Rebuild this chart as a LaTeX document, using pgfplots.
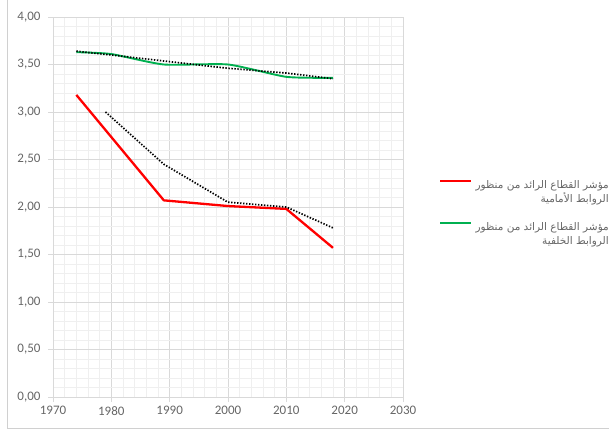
\documentclass[border=0pt]{standalone}
\usepackage{fontspec}
\usepackage{pgfplots}
\usepackage{pgfplotstable}
\pgfplotsset{compat=1.18}
\setmainfont{Carlito}
\newfontfamily\arabicfont[Script=Arabic]{DejaVu Sans}
\TeXXeTstate=1

\definecolor{tickgray}{HTML}{666666}
\definecolor{majgrid}{HTML}{D9D9D9}
\definecolor{mingrid}{HTML}{EFEFEF}
\definecolor{framegray}{HTML}{D0D0D0}
\definecolor{xlred}{HTML}{FF0000}
\definecolor{xlgreen}{HTML}{00B050}

% forward linkages index
\pgfplotstableread{
year val
1974 3.18
1989 2.07
2000 2.01
2010 1.98
2018 1.57
}\forwardtab
% trend of the forward index
\pgfplotstableread{
year val
1979 3.00
1989 2.45
2000 2.05
2010 2.00
2018 1.78
}\forwardtrend
% backward linkages index
\pgfplotstableread{
year val
1974 3.63
1980 3.61
1989 3.50
2000 3.50
2010 3.37
2018 3.36
}\backwardtab
% trend of the backward index
\pgfplotstableread{
year val
1974 3.64
1980 3.60
1990 3.53
2000 3.46
2010 3.41
2018 3.35
}\backwardtrend

\newcommand{\ar}[1]{\arabicfont\beginR #1\endR}

\begin{document}
\begin{tikzpicture}
\useasboundingbox (-53bp,-33bp) rectangle (556bp,397bp);
\draw[framegray, line width=0.8bp] (-46bp,397bp) -- (-46bp,-31bp) -- (560bp,-31bp);
\begin{axis}[
  scale only axis,
  width=350bp, height=380bp,
  xmin=1970, xmax=2030, ymin=0, ymax=4,
  xtick={1970,1980,...,2030},
  ytick={0,0.5,...,4},
  minor x tick num=4, minor y tick num=4,
  grid=both,
  major grid style={majgrid, line width=0.8bp},
  minor grid style={mingrid, line width=0.6bp},
  axis x line*=bottom, axis y line*=left,
  axis line style={majgrid, line width=0.8bp, -},
  tick style={majgrid, line width=0.8bp},
  tick align=outside, major tick length=5bp, minor tick length=0pt,
  ticklabel style={font=\fontsize{13bp}{15bp}\selectfont, text=tickgray},
  yticklabel style={xshift=-4bp},
  xticklabel style={yshift=-1bp},
  /pgf/number format/assume math mode=true,
  yticklabel style={/pgf/number format/.cd, fixed, fixed zerofill, precision=2, use comma},
  xticklabel style={/pgf/number format/1000 sep={}},
  legend cell align=right,
  legend style={at={(rel axis cs:1.103,0.578)}, anchor=north west, draw=none, fill=none,
    inner sep=0pt, row sep=22bp, column sep=2bp,
    font=\fontsize{10.5bp}{14bp}\selectfont, text=tickgray,
    nodes={inner sep=1bp}},
  legend image code/.code={
    \path[draw=none, fill=none] (0bp,-7bp) rectangle (31bp,7bp);
    \draw[#1] (0bp,7bp) -- (31bp,7bp);
  },
]
\addplot[xlred, line width=2.3bp, line join=round] table[x=year,y=val] {\forwardtab};
\addlegendentry{\begin{tabular}{@{}r@{}}\ar{مؤشر القطاع الرائد من منظور}\\ \ar{الروابط الأمامية}\end{tabular}}
\addplot[xlgreen, line width=1.9bp, smooth, tension=0.35] table[x=year,y=val] {\backwardtab};
\addlegendentry{\begin{tabular}{@{}r@{}}\ar{مؤشر القطاع الرائد من منظور}\\ \ar{الروابط الخلفية}\end{tabular}}
\addplot[black, line width=1.7bp, dash pattern=on 1.4bp off 1.6bp, forget plot] table[x=year,y=val] {\forwardtrend};
\addplot[black, line width=1.7bp, dash pattern=on 1.4bp off 1.6bp, forget plot] table[x=year,y=val] {\backwardtrend};
\end{axis}
\end{tikzpicture}
\end{document}
